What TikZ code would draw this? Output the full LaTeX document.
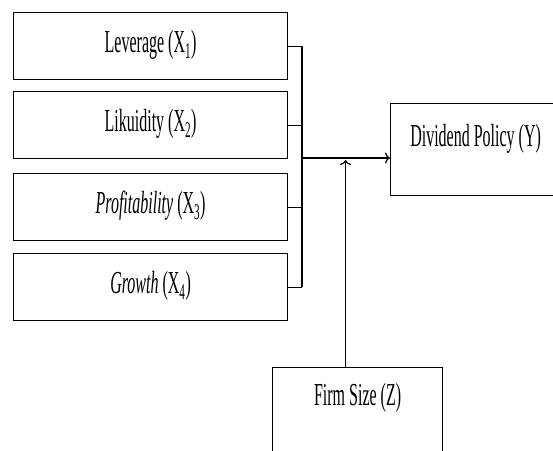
\documentclass[tikz,border=0pt]{standalone}
\usepackage{fontspec}
\setmainfont{Liberation Serif}[FakeStretch=0.5]
\usetikzlibrary{arrows.meta}

\begin{document}
\begin{tikzpicture}[x=1pt,y=-1pt,line width=1.2pt,>={To[length=5pt,width=11pt]},
  varbox/.style={draw,anchor=north west,inner sep=0pt,minimum width=274pt,text height=40pt,text depth=27pt},
  bigbox/.style={draw,anchor=north west,inner sep=0pt,minimum width=170pt},
  font=\fontsize{32}{34}\selectfont]
\useasboundingbox (0,0) rectangle (553,450);
\node(lev)[varbox] at (13,12){Leverage (X\textsubscript{1})};
\node(liq)[varbox] at (13,91){Likuidity (X\textsubscript{2})};
\node(prof)[varbox] at (13,173){\textit{Profitability} (X\textsubscript{3})};
\node(gro)[varbox] at (13,253){\textit{Growth} (X\textsubscript{4})};
\node(div)[bigbox,text height=43pt,text depth=49pt] at (390,103){Dividend Policy (Y)};
\node(firm)[bigbox,text height=38pt,text depth=70pt] at (272,367){Firm Size (Z)};
\coordinate(hub) at (302,158);
\draw (lev.east) -- (lev.east -| hub) coordinate(jt);
\draw (gro.east) -- (gro.east -| hub) coordinate(jb);
\draw (liq.east) -- (liq.east -| hub);
\draw (prof.east) -- (prof.east -| hub);
\draw (jt) -- (jb);
\draw[->] (hub) -- (hub -| div.west);
\coordinate(fz) at ([xshift=-12pt]firm.north);
\draw[->] (fz) -- ([yshift=-2pt]fz |- hub);
\end{tikzpicture}
\end{document}
